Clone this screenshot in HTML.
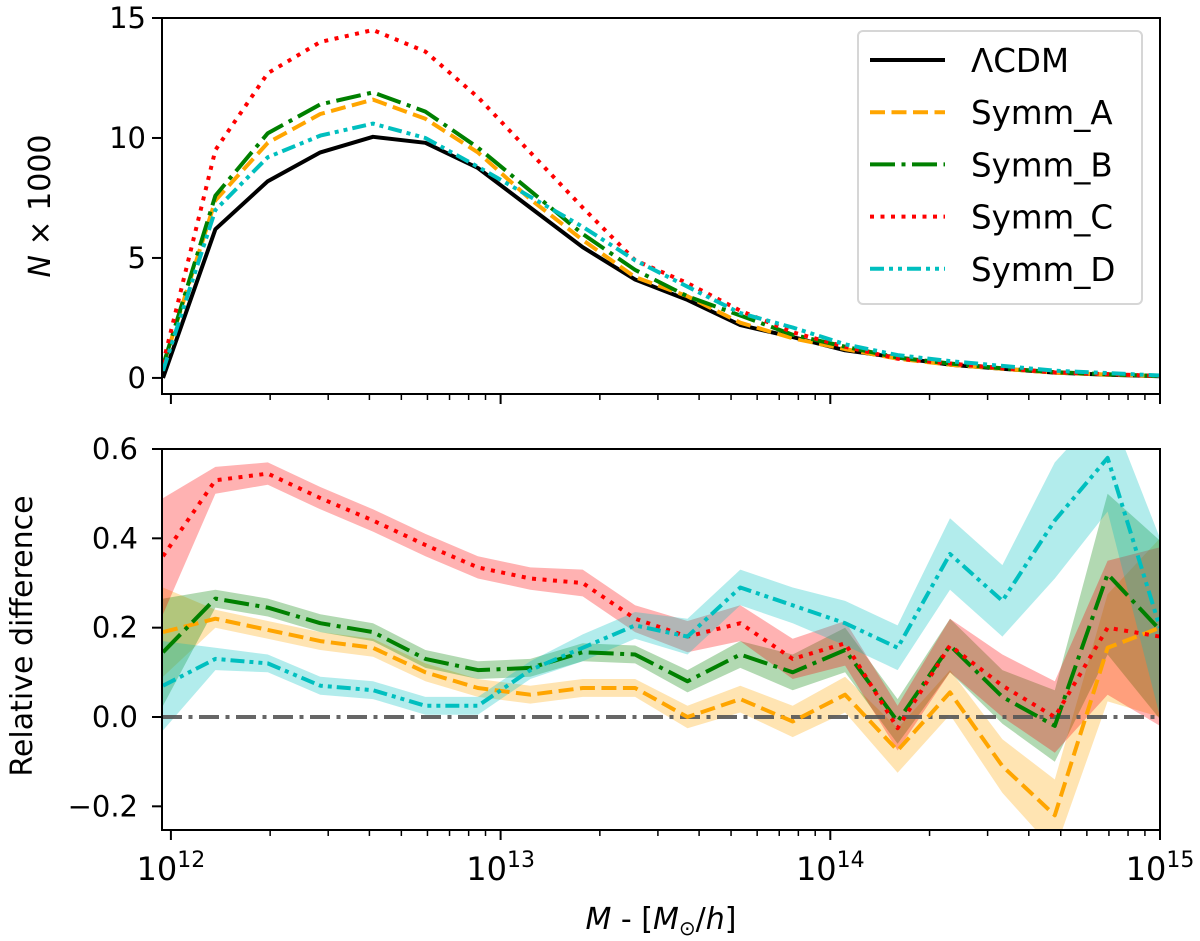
<!DOCTYPE html>
<html><head><meta charset="utf-8">
<style>
html,body{margin:0;padding:0;background:#fff;}
svg{display:block;font-family:"DejaVu Sans","Liberation Sans",sans-serif;}
</style></head>
<body>
<svg id="chart" width="1200" height="941" viewBox="0 0 1200 941" xmlns="http://www.w3.org/2000/svg">
<defs>
<clipPath id="clipTop"><rect x="162" y="18" width="998" height="376"/></clipPath>
<clipPath id="clipBot"><rect x="162" y="449" width="998" height="381"/></clipPath>
</defs>
<g id="top-panel"></g>
<g id="bot-panel"></g>
</svg>
<script>
const logMass = [11.976,12.135,12.294,12.453,12.613,12.772,12.931,13.090,13.249,13.408,13.567,13.727,13.886,14.045,14.204,14.363,14.522,14.681,14.841,15.0];
const nLCDM  = [0.0,6.2,8.2,9.4,10.05,9.8,8.75,7.1,5.45,4.1,3.25,2.2,1.7,1.15,0.85,0.55,0.38,0.22,0.13,0.07];
const nSymmA = [0.5,7.4,9.8,11.0,11.6,10.8,9.4,7.45,5.75,4.2,3.4,2.3,1.65,1.2,0.8,0.55,0.38,0.22,0.14,0.08];
const nSymmB = [0.5,7.6,10.2,11.4,11.9,11.1,9.6,7.8,6.0,4.5,3.4,2.6,1.8,1.3,0.85,0.6,0.4,0.24,0.15,0.08];
const nSymmC = [0.6,9.5,12.7,14.0,14.5,13.6,11.7,9.4,7.1,4.9,3.95,2.8,1.9,1.3,0.8,0.6,0.4,0.23,0.16,0.08];
const nSymmD = [0.3,7.0,9.2,10.1,10.6,10.0,8.8,7.55,6.3,4.9,3.8,2.7,2.1,1.4,0.95,0.7,0.5,0.3,0.2,0.1];
const rdA = [0.19,0.22,0.195,0.17,0.155,0.10,0.065,0.05,0.065,0.065,0.0,0.04,-0.01,0.05,-0.075,0.055,-0.11,-0.22,0.155,0.20];
const rdB = [0.145,0.265,0.245,0.21,0.19,0.13,0.105,0.11,0.145,0.14,0.08,0.14,0.10,0.15,-0.01,0.16,0.045,-0.02,0.32,0.195];
const rdC = [0.36,0.53,0.545,0.49,0.44,0.385,0.335,0.31,0.30,0.22,0.18,0.21,0.13,0.165,-0.025,0.16,0.07,0.0,0.20,0.18];
const rdD = [0.07,0.13,0.12,0.07,0.06,0.025,0.025,0.105,0.155,0.205,0.18,0.29,0.25,0.21,0.155,0.365,0.26,0.44,0.58,0.20];
const errA = [0.10,0.02,0.02,0.02,0.02,0.02,0.02,0.02,0.02,0.02,0.025,0.03,0.035,0.04,0.05,0.05,0.06,0.08,0.12,0.2];
const errB = [0.12,0.02,0.02,0.02,0.02,0.02,0.02,0.02,0.02,0.02,0.025,0.03,0.04,0.05,0.05,0.06,0.06,0.08,0.18,0.2];
const errC = [0.13,0.03,0.025,0.025,0.025,0.025,0.025,0.025,0.03,0.03,0.035,0.04,0.045,0.05,0.05,0.06,0.07,0.08,0.15,0.2];
const errD = [0.10,0.025,0.02,0.02,0.02,0.02,0.02,0.02,0.03,0.03,0.04,0.04,0.04,0.05,0.05,0.08,0.08,0.13,0.12,0.2];
const topTicks = [0,5,10,15];
const botTicks = [-0.2,0.0,0.2,0.4,0.6];
const botTickLabels = ["\u22120.2","0.0","0.2","0.4","0.6"];
const decades = [12,13,14,15];

const NS="http://www.w3.org/2000/svg";
const X0=162,X1=1160,LMIN=11.973,LMAX=15.0;
const xs = l => X0+(l-LMIN)/(LMAX-LMIN)*(X1-X0);
const T0=18,T1=394,TMIN=-0.67,TMAX=15.0;
const yt = v => T1-(v-TMIN)/(TMAX-TMIN)*(T1-T0);
const B0=449,B1=830,BMIN=-0.253,BMAX=0.6;
const yb = v => B1-(v-BMIN)/(BMAX-BMIN)*(B1-B0);
function mk(tag,attrs,parent){const e=document.createElementNS(NS,tag);for(const k in attrs)e.setAttribute(k,attrs[k]);parent.appendChild(e);return e;}
const topG=document.getElementById('top-panel'), botG=document.getElementById('bot-panel');

const styles={
 lcdm:{c:'#000000',d:''},
 A:{c:'#ffa500',d:'15,6.5'},
 B:{c:'#008000',d:'25,6.5,4,6.5'},
 C:{c:'#ff0000',d:'4,6.5'},
 D:{c:'#00bfbf',d:'14,5,4,5,4,5'}
};
function line(g,vals,yf,st,name,clip){
  const pts=vals.map((v,i)=>xs(logMass[i]).toFixed(1)+','+yf(v).toFixed(1)).join(' ');
  const p=mk('polyline',{points:pts,fill:'none',stroke:st.c,'stroke-width':4,'stroke-dasharray':st.d,'stroke-linejoin':'round','clip-path':clip},g);
  
  
}
function band(g,vals,errs,col,name){
  const up=vals.map((v,i)=>xs(logMass[i]).toFixed(1)+','+yb(v+errs[i]).toFixed(1));
  const dn=vals.map((v,i)=>xs(logMass[i]).toFixed(1)+','+yb(v-errs[i]).toFixed(1)).reverse();
  const p=mk('polygon',{points:up.concat(dn).join(' '),fill:col,'fill-opacity':0.3,stroke:'none','clip-path':'url(#clipBot)'},g);
  
  
}
function xTicks(g,yBase,labels){
  decades.forEach(d=>{
    const x=xs(d);
    mk('line',{x1:x,x2:x,y1:yBase,y2:yBase+10,stroke:'#000','stroke-width':2},g);
    if(labels){
      const t=mk('text',{x:x,y:yBase+50,'text-anchor':'middle','font-size':32},g);
      
      
      t.innerHTML='10<tspan dy="-13" font-size="22">'+d+'</tspan>';
    }
    if(d<15){for(let m=2;m<=9;m++){const xm=xs(d+Math.log10(m));mk('line',{x1:xm,x2:xm,y1:yBase,y2:yBase+6,stroke:'#000','stroke-width':1.5},g);}}
  });
}
// ---- top panel
line(topG,nLCDM,yt,styles.lcdm,'lcdm-line','url(#clipTop)');
line(topG,nSymmA,yt,styles.A,'symm-a-line','url(#clipTop)');
line(topG,nSymmB,yt,styles.B,'symm-b-line','url(#clipTop)');
line(topG,nSymmC,yt,styles.C,'symm-c-line','url(#clipTop)');
line(topG,nSymmD,yt,styles.D,'symm-d-line','url(#clipTop)');
mk('rect',{x:X0,y:T0,width:X1-X0,height:T1-T0,fill:'none',stroke:'#000','stroke-width':2},topG);
topTicks.forEach(v=>{
  const y=yt(v);
  mk('line',{x1:X0-10,x2:X0,y1:y,y2:y,stroke:'#000','stroke-width':2},topG);
  const t=mk('text',{x:X0-16,y:y+10,'text-anchor':'end','font-size':29},topG);
  
  
  t.textContent=v;
});
xTicks(topG,T1,false);
{const t=mk('text',{x:0,y:0,'text-anchor':'middle','font-size':30,transform:'translate(50,206) rotate(-90)'},topG);
 
 
 t.innerHTML='<tspan font-style="italic">N</tspan> × 1000';}
// legend
{const lg=mk('g',{},topG);
 
 
 mk('rect',{x:858,y:31,width:284,height:273,rx:5,fill:'#fff','fill-opacity':0.9,stroke:'#d6d6d6','stroke-width':2},lg);
 const entries=[['ΛCDM',styles.lcdm],['Symm_A',styles.A],['Symm_B',styles.B],['Symm_C',styles.C],['Symm_D',styles.D]];
 entries.forEach((e,i)=>{
   const y=60+i*52.2;
   const ent=mk('g',{},lg);
   
   
   mk('line',{x1:870,x2:945,y1:y,y2:y,stroke:e[1].c,'stroke-width':4,'stroke-dasharray':e[1].d},ent);
   const t=mk('text',{x:971,y:y+12,'font-size':32.5},ent);
   t.textContent=e[0];
 });}
// ---- bottom panel
band(botG,rdA,errA,'#ffa500','symm-a-band');
band(botG,rdB,errB,'#008000','symm-b-band');
band(botG,rdC,errC,'#ff0000','symm-c-band');
band(botG,rdD,errD,'#00bfbf','symm-d-band');
{const z=mk('line',{x1:X0,x2:X1,y1:yb(0),y2:yb(0),stroke:'#555','stroke-width':4,'stroke-dasharray':'20,6.5,4,6.5','stroke-opacity':0.9},botG);
 
 }
line(botG,rdA,yb,styles.A,'symm-a-reldiff-line','url(#clipBot)');
line(botG,rdB,yb,styles.B,'symm-b-reldiff-line','url(#clipBot)');
line(botG,rdC,yb,styles.C,'symm-c-reldiff-line','url(#clipBot)');
line(botG,rdD,yb,styles.D,'symm-d-reldiff-line','url(#clipBot)');
mk('rect',{x:X0,y:B0,width:X1-X0,height:B1-B0,fill:'none',stroke:'#000','stroke-width':2},botG);
botTicks.forEach((v,i)=>{
  const y=yb(v);
  mk('line',{x1:X0-10,x2:X0,y1:y,y2:y,stroke:'#000','stroke-width':2},botG);
  const t=mk('text',{x:X0-24,y:y+10,'text-anchor':'end','font-size':29},botG);
  
  
  t.textContent=botTickLabels[i];
});
xTicks(botG,B1,true);
{const t=mk('text',{x:0,y:0,'text-anchor':'middle','font-size':30,transform:'translate(32,636) rotate(-90)'},botG);
 
 
 t.textContent='Relative difference';}
{const t=mk('text',{x:661,y:929,'text-anchor':'middle','font-size':30},botG);
 
 
 t.innerHTML='<tspan font-style="italic">M</tspan> - [<tspan font-style="italic">M</tspan><tspan font-size="20" dy="6">⊙</tspan><tspan dy="-6">/</tspan><tspan font-style="italic">h</tspan>]';}
</script>
</body></html>
